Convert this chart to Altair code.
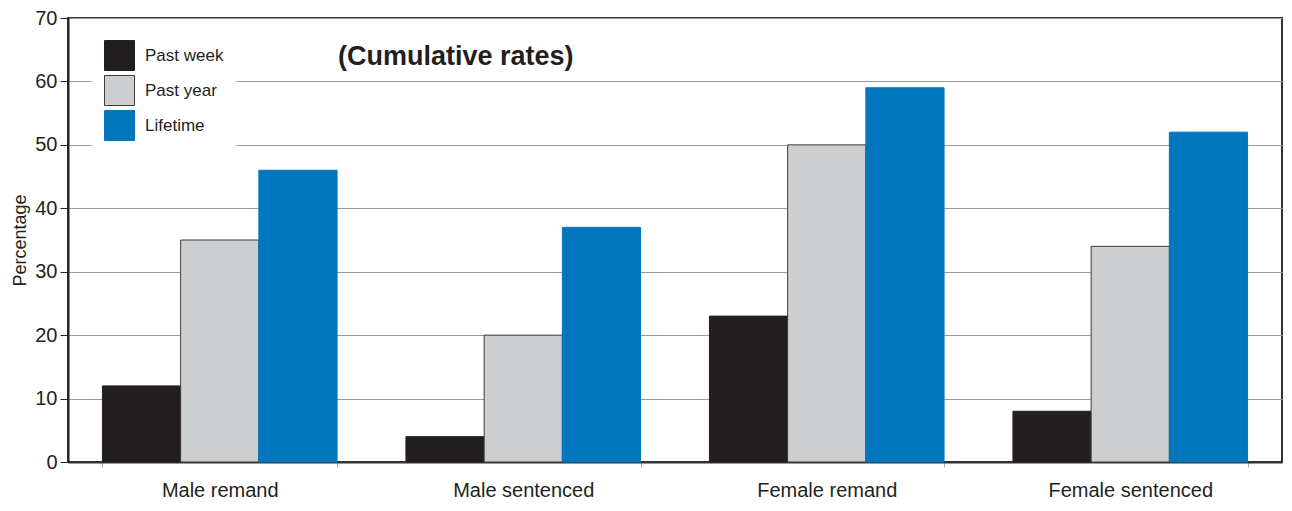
import altair as alt
import pandas as pd

categories = ["Male remand", "Male sentenced", "Female remand", "Female sentenced"]
series = ["Past week", "Past year", "Lifetime"]
past_week = [12, 4, 23, 8]
past_year = [35, 20, 50, 34]
lifetime = [46, 37, 59, 52]
fill_colors = ["#231f20", "#cdced0", "#0077bd"]
stroke_colors = ["#231f20", "#3c3c3c", "#0077bd"]
y_ticks = [0, 10, 20, 30, 40, 50, 60, 70]

rows = []
for i, c in enumerate(categories):
    for s, vals in zip(series, [past_week, past_year, lifetime]):
        rows.append({"group": c, "period": s, "value": vals[i]})
df = pd.DataFrame(rows)

FONT = "Liberation Sans"

legend = alt.Legend(
    title=None, orient="none", legendX=24, legendY=10, direction="vertical",
    symbolType="square", symbolSize=900, symbolStrokeWidth=1,
    labelFontSize=17, labelFont=FONT, labelColor="#231f20", labelOffset=10,
    fillColor="white", padding=12, rowPadding=0,
)

chart = alt.Chart(df).mark_bar(strokeWidth=1).encode(
    x=alt.X("group:N", sort=categories,
            scale=alt.Scale(paddingInner=0.227, paddingOuter=0.1135),
            axis=alt.Axis(title=None, labelAngle=0, labelFontSize=20, labelFont=FONT,
                          labelColor="#231f20", labelPadding=13, tickBand="extent",
                          tickSize=5, tickColor="#aaaaaa", domainColor="#333333",
                          domainWidth=2)),
    xOffset=alt.XOffset("period:N", sort=series),
    y=alt.Y("value:Q", scale=alt.Scale(domain=[0, 70], nice=False),
            axis=alt.Axis(values=y_ticks, title="Percentage", titleFontSize=18,
                          titleFontWeight="normal", titleFont=FONT, titleColor="#231f20",
                          titlePadding=5, labelFontSize=20, labelFont=FONT,
                          labelColor="#231f20", labelPadding=3, tickSize=8,
                          tickColor="#231f20", domainColor="#231f20", domainWidth=2,
                          gridColor="#9a9a9a", gridWidth=1)),
    fill=alt.Fill("period:N", sort=series,
                  scale=alt.Scale(domain=series, range=fill_colors), legend=legend),
    stroke=alt.Stroke("period:N", sort=series,
                      scale=alt.Scale(domain=series, range=stroke_colors), legend=legend),
).properties(
    width=1214, height=444,
    autosize=alt.AutoSizeParams(type="none"),
    padding={"left": 60, "top": 10, "right": 2, "bottom": 41},
    title=alt.TitleParams("(Cumulative rates)", anchor="start", frame="group",
                          fontSize=27, fontWeight="bold", font=FONT, color="#231f20",
                          dx=270, dy=67),
).configure_view(stroke="#333333", strokeWidth=2)

chart.save("out.html", embed_options={"renderer": "svg", "actions": False})
